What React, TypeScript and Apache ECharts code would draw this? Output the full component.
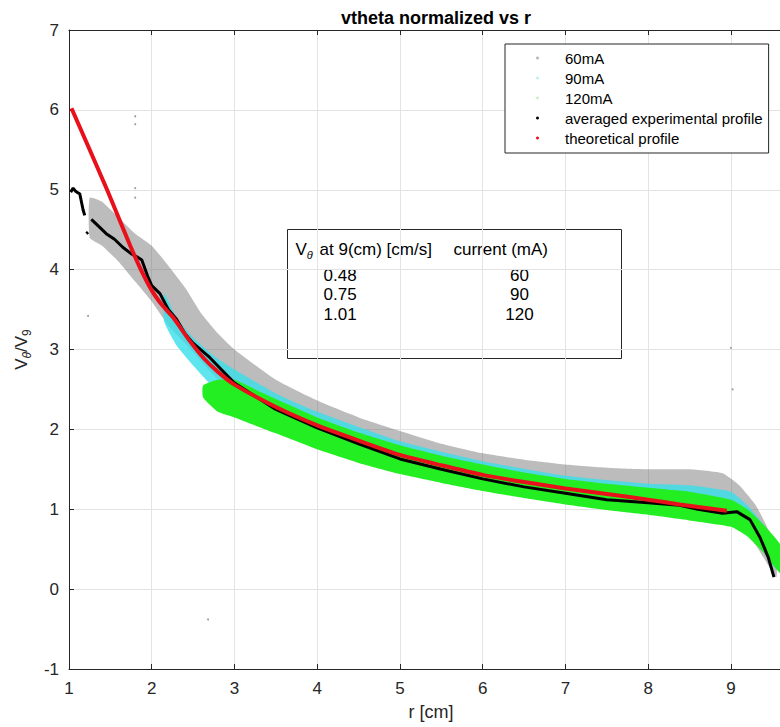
import React, { useEffect, useRef } from "react";
import * as echarts from "echarts";

// ---------------- data ----------------
// 60 mA point cloud: envelope (lower / upper) at sample radii
const g60R = [1.25, 1.4, 1.6, 1.8, 2.0, 2.2, 2.4, 2.6, 2.8, 3.0, 3.5, 4.0, 4.5, 5.0, 5.5, 6.0, 6.5, 7.0, 7.5, 8.0, 8.5, 8.9, 9.1, 9.3, 9.45, 9.55];
const g60Lo = [4.4, 4.3, 4.1, 3.85, 3.6, 3.3, 3.08, 2.85, 2.62, 2.42, 2.08, 1.84, 1.63, 1.47, 1.35, 1.25, 1.16, 1.09, 1.03, 0.98, 0.92, 0.85, 0.78, 0.55, 0.3, 0.15];
const g60Hi = [4.9, 4.85, 4.65, 4.45, 4.3, 4.05, 3.78, 3.45, 3.2, 3.0, 2.62, 2.36, 2.15, 1.98, 1.82, 1.7, 1.62, 1.56, 1.52, 1.5, 1.5, 1.45, 1.3, 1.05, 0.75, 0.45];
// isolated 60 mA points
const out60R = [1.8, 1.8, 1.8, 1.8, 1.23, 2.68, 9.0, 9.02];
const out60V = [5.92, 5.82, 5.02, 4.9, 3.42, -0.38, 3.02, 2.5];

// 90 mA point cloud envelope
const c90R = [2.15, 2.3, 2.5, 2.75, 3.0, 3.5, 4.0, 5.0, 6.0, 7.0, 8.0, 8.5, 9.0, 9.2, 9.4, 9.55];
const c90Lo = [3.35, 3.05, 2.8, 2.52, 2.33, 2.05, 1.85, 1.52, 1.3, 1.13, 1.02, 0.97, 0.9, 0.75, 0.45, 0.25];
const c90Hi = [3.7, 3.4, 3.15, 2.92, 2.75, 2.45, 2.22, 1.85, 1.6, 1.42, 1.32, 1.3, 1.22, 1.05, 0.8, 0.55];

// 120 mA point cloud envelope
const g120R = [2.62, 2.8, 3.0, 3.25, 3.5, 4.0, 4.5, 5.0, 5.5, 6.0, 6.5, 7.0, 7.5, 8.0, 8.5, 9.0, 9.2, 9.4, 9.6];
const g120Lo = [2.4, 2.22, 2.15, 2.05, 1.95, 1.75, 1.58, 1.44, 1.33, 1.23, 1.14, 1.06, 0.99, 0.93, 0.86, 0.78, 0.66, 0.45, 0.2];
const g120Hi = [2.55, 2.62, 2.62, 2.5, 2.38, 2.15, 1.96, 1.8, 1.67, 1.56, 1.46, 1.38, 1.32, 1.27, 1.22, 1.12, 1.0, 0.8, 0.55];

// averaged experimental profile (null = gap)
const avgR = [1.02, 1.05, 1.08, 1.11, 1.13, 1.15, 1.17, 1.19, 1.2, 1.21, 1.23, 1.24, 1.27, 1.35, 1.45, 1.55, 1.65, 1.75, 1.82, 1.88, 1.95, 2.0, 2.1, 2.2, 2.3, 2.4, 2.5, 2.7, 3.0, 3.5, 4.0, 4.5, 5.0, 5.5, 6.0, 6.5, 7.0, 7.5, 8.0, 8.38, 8.6, 8.9, 9.07, 9.23, 9.35, 9.45, 9.52];
const avgV: (number | null)[] = [4.97, 5.02, 4.98, 4.96, 4.95, 4.85, 4.75, 4.68, null, 4.45, 4.47, null, 4.63, 4.55, 4.45, 4.38, 4.28, 4.2, 4.16, 4.12, 3.92, 3.8, 3.7, 3.5, 3.38, 3.2, 3.08, 2.9, 2.58, 2.25, 2.02, 1.82, 1.63, 1.5, 1.38, 1.28, 1.2, 1.12, 1.08, 1.05, 1.0, 0.95, 0.97, 0.87, 0.65, 0.4, 0.15];

// theoretical profile
const thR = [1.03, 1.2, 1.46, 1.6, 1.74, 1.86, 2.0, 2.13, 2.26, 2.45, 2.62, 2.8, 3.0, 3.5, 4.0, 4.5, 5.0, 5.5, 6.0, 6.5, 7.0, 7.5, 8.0, 8.38, 8.95];
const thV = [6.02, 5.62, 5.0, 4.65, 4.3, 4.02, 3.74, 3.55, 3.4, 3.12, 2.9, 2.72, 2.56, 2.28, 2.05, 1.86, 1.68, 1.55, 1.43, 1.34, 1.26, 1.19, 1.12, 1.06, 0.98];

// annotation table
const tableV = ["0.48", "0.75", "1.01"];
const tableI = ["60", "90", "120"];

const xTicks = { min: 1, max: 9.75, interval: 1 };
const yTicks = { min: -1, max: 7, interval: 1 };

const FONT = "'Liberation Sans', Arial, Helvetica, sans-serif";
const AX = "#262626";

function band(name: string, rs: number[], lo: number[], hi: number[], fill: string, legendColor: string, z: number) {
  return {
    name,
    type: "custom",
    z,
    clip: true,
    itemStyle: { color: legendColor },
    data: rs.map((r, i) => [r, lo[i], hi[i]]),
    encode: { x: 0, y: [1, 2] },
    renderItem: (params: any, api: any) => {
      if (params.dataIndex !== 0) return null;
      const pts: number[][] = [];
      for (let i = 0; i < rs.length; i++) pts.push(api.coord([rs[i], hi[i]]));
      for (let i = rs.length - 1; i >= 0; i--) pts.push(api.coord([rs[i], lo[i]]));
      return { type: "polygon", shape: { points: pts, smooth: 0.15 }, style: { fill } };
    },
  };
}

export default function App() {
  const ref = useRef<HTMLDivElement>(null);
  useEffect(() => {
    if (!ref.current) return;
    const chart = echarts.init(ref.current, undefined, { renderer: "svg" });
    const option: any = {
      animation: false,
      backgroundColor: "#ffffff",
      textStyle: { fontFamily: FONT },
      title: {
        text: "vtheta normalized vs r",
        left: 431,
        top: 4,
        textAlign: "center",
        textStyle: { fontFamily: FONT, fontSize: 18, fontWeight: "bold", color: "#000" },
      },
      grid: { left: 69, right: 7, top: 30, bottom: 58 },
      legend: {
        orient: "vertical",
        left: 505,
        top: 44,
        padding: [6, 6, 7, 31],
        itemGap: 4,
        itemWidth: 3,
        itemHeight: 3,
        icon: "circle",
        borderColor: AX,
        borderWidth: 1,
        backgroundColor: "#fff",
        selectedMode: false,
        textStyle: { fontFamily: FONT, fontSize: 15, color: "#000", padding: [0, 0, 0, 21], lineHeight: 16 },
        data: ["60mA", "90mA", "120mA", "averaged experimental profile", "theoretical profile"],
      },
      xAxis: [
        {
          type: "value",
          ...xTicks,
          name: "r [cm]",
          nameLocation: "middle",
          nameGap: 34,
          nameTextStyle: { fontFamily: FONT, fontSize: 18, color: AX },
          axisLine: { onZero: false, lineStyle: { color: AX, width: 1 } },
          axisTick: { inside: true, length: 5, lineStyle: { color: AX } },
          axisLabel: { showMaxLabel: false, margin: 11, fontFamily: FONT, fontSize: 17, color: AX },
          splitLine: { show: true, lineStyle: { color: "#e3e3e3", width: 1 } },
        },
        {
          type: "value",
          position: "top",
          ...xTicks,
          axisLine: { onZero: false, lineStyle: { color: AX, width: 1 } },
          axisTick: { inside: true, length: 5, lineStyle: { color: AX } },
          axisLabel: { show: false },
          splitLine: { show: false },
        },
      ],
      yAxis: {
        type: "value",
        ...yTicks,
        name: "{a|V}{s|θ}{a|/V}{t|9}",
        nameLocation: "middle",
        nameGap: 36,
        nameTextStyle: {
          fontFamily: FONT,
          color: AX,
          rich: {
            a: { fontSize: 17, fontFamily: FONT, color: AX, lineHeight: 22, verticalAlign: "middle" },
            s: { fontSize: 12, fontFamily: FONT, fontStyle: "italic", color: AX, lineHeight: 12, padding: [10, 0, 0, 0] },
            t: { fontSize: 12, fontFamily: FONT, color: AX, lineHeight: 12, padding: [10, 0, 0, 0] },
          },
        },
        axisLine: { show: true, onZero: false, lineStyle: { color: AX, width: 1 } },
        axisTick: { show: true, inside: true, length: 5, lineStyle: { color: AX } },
        axisLabel: { margin: 10, fontFamily: FONT, fontSize: 17, color: AX },
        splitLine: { show: true, lineStyle: { color: "#e3e3e3", width: 1 } },
      },
      series: [
        band("60mA", g60R, g60Lo, g60Hi, "rgba(95,95,95,0.42)", "#b5b5b5", 1),
        {
          name: "60mA",
          type: "scatter",
          z: 2,
          symbolSize: 2,
          itemStyle: { color: "#888" },
          data: out60R.map((r, i) => [r, out60V[i]]),
        },
        band("90mA", c90R, c90Lo, c90Hi, "rgba(55,222,232,0.8)", "#bdeef0", 3),
        band("120mA", g120R, g120Lo, g120Hi, "#22ee22", "#c8f0c8", 4),
        {
          name: "averaged experimental profile",
          type: "line",
          z: 5,
          symbol: "none",
          connectNulls: false,
          lineStyle: { color: "#000", width: 3 },
          itemStyle: { color: "#000" },
          data: avgR.map((r, i) => [r, avgV[i]]),
        },
        {
          name: "theoretical profile",
          type: "line",
          z: 6,
          symbol: "none",
          smooth: 0.2,
          lineStyle: { color: "#e8101a", width: 4 },
          itemStyle: { color: "#e8101a" },
          data: thR.map((r, i) => [r, thV[i]]),
        },
      ],
      graphic: [
        {
          type: "group",
          left: 287,
          top: 229,
          z: 100,
          children: [
            { type: "rect", shape: { x: 0, y: 0, width: 334, height: 129 }, style: { fill: "#fff", stroke: AX, lineWidth: 1 } },
            {
              type: "text",
              x: 8,
              y: 9,
              style: {
                text: "{a|V}{s|θ}{a| at 9(cm) [cm/s]}",
                rich: {
                  a: { fontSize: 17, fontFamily: FONT, fill: "#000", lineHeight: 22 },
                  s: { fontSize: 11, fontFamily: FONT, fontStyle: "italic", fill: "#000", lineHeight: 11, padding: [10, 2, 0, 0] },
                },
              },
            },
            { type: "text", x: 166, y: 11, style: { text: "current (mA)", fontSize: 17, fontFamily: FONT, fill: "#000" } },
            ...tableV.map((t, i) => ({ type: "text", x: 36, y: 37 + i * 19.5, style: { text: t, fontSize: 17, fontFamily: FONT, fill: "#000" } })),
            ...tableI.map((t, i) => ({ type: "text", x: 232, y: 37 + i * 19.5, style: { text: t, fontSize: 17, fontFamily: FONT, fill: "#000", align: "center" } })),
          ],
        },
      ],
    };
    chart.setOption(option);
    return () => chart.dispose();
  }, []);
  return (
    <div style={{ position: "fixed", left: 0, top: 0, width: 780, height: 727, overflow: "hidden", background: "#fff" }}>
      <div ref={ref} style={{ width: 800, height: 727 }} />
    </div>
  );
}
